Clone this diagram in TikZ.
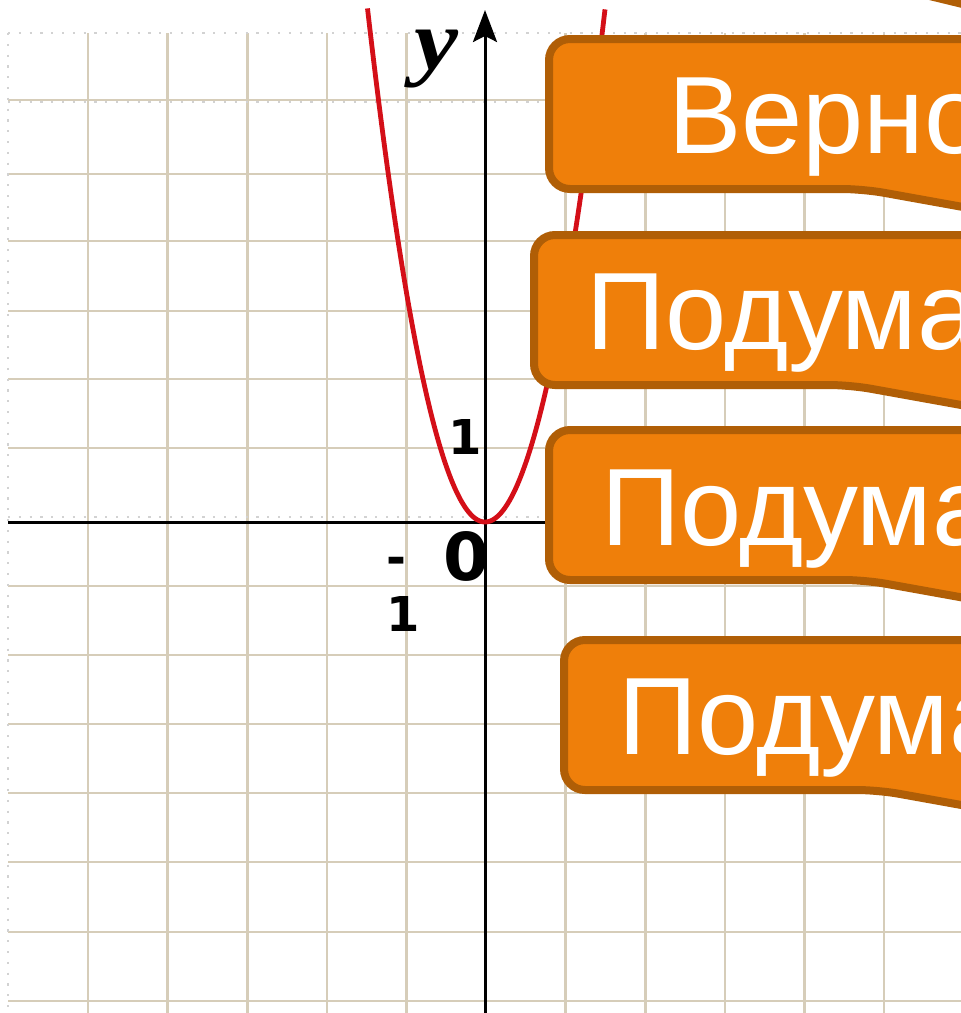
\documentclass[tikz,border=0pt]{standalone}
\usepackage{graphicx}
\usepackage{fontspec}
\setmainfont{Liberation Sans}
\newfontfamily\yserif{Liberation Serif}
\newfontfamily\numfont{DejaVu Sans}
\usetikzlibrary{arrows.meta}
\definecolor{gridc}{HTML}{D6CDB9}
\definecolor{dotc}{HTML}{D2D2D2}
\definecolor{parac}{HTML}{D40F18}
\definecolor{boxfill}{HTML}{EF7F0A}
\definecolor{boxline}{HTML}{B05E06}
\tikzset{
  gridline/.style={draw=gridc, line width=2.6pt},
  dotline/.style={draw=dotc, line width=2.2pt, dash pattern=on 2.2pt off 8.6pt},
  axisline/.style={draw=black, line width=3pt},
  parab/.style={draw=parac, line width=4.8pt, line join=round},
  calloutbox/.style={fill=boxfill, draw=boxline, line width=8pt, rounded corners=21pt},
  callouttext/.style={text=white, font=\fontsize{110}{110}\selectfont, anchor=base west, inner sep=0pt},
  ticklabel/.style={font=\numfont\bfseries\fontsize{48}{57}\selectfont, inner sep=0pt},
}
\newcommand\callout[8]{%
  \draw[calloutbox] ({#4},{#3-4}) -- ({#1+4},{#3-4}) -- ({#1+4},{#2+4}) -- (1100,{#2+4})
    -- (1100,{#3-4+0.18*(1100-#4)}) -- cycle;
  \node[callouttext] (#8) at (#5,#6) {#7};
}
\begin{document}
\begin{tikzpicture}[x=1pt,y=-1pt]
\useasboundingbox (0,0) rectangle (961,1013);
\clip (0,0) rectangle (961,1013);
\fill[white] (0,0) rectangle (961,1013);
% grid
\foreach \gx in {88,167.6,247.2,326.8,406.4,565.6,645.2,724.8,804.4,884}
  \draw[gridline] (\gx,33) -- (\gx,1013);
\foreach \gy in {100,174,241,311,379,448,586,655,724,793,862,932,1001}
  \draw[gridline] (8,\gy) -- (961,\gy);
% dotted frame lines
\draw[dotline] (8,33) -- (961,33);
\draw[dotline] (8,102) -- (961,102);
\draw[dotline] (8,517) -- (545,517);
\draw[dotline] (8,33) -- (8,1013);
% axes
\coordinate (xl) at (8,522);
\coordinate (xr) at (560,522);
\coordinate (yb) at (485,1013);
\coordinate (yt) at (485,10);
\draw[axisline] (xl) -- (xr);
\draw[axisline, -{Stealth[length=32pt,width=24pt,inset=6pt]}] (yb) -- (yt);
% parabola
\draw[parab] plot[domain=-117.5:0, samples=60] ({485+\x},{522-0.0372*\x*\x})
  -- plot[domain=0:120, samples=60] ({485+\x},{522-0.0356*\x*\x});
% labels
\node[ticklabel, anchor=base west] (one) at (448,454) {1};
\node[font=\numfont\bfseries\fontsize{66}{66}\selectfont, inner sep=0pt, anchor=base west] (zero) at (443,580) {0};
\node[ticklabel, anchor=north west, align=left] (mone) at (386,557) {-\\1};
\node[font=\yserif\bfseries\itshape\fontsize{86}{86}\selectfont, inner sep=0pt, anchor=base west] (ylab) at (414,69) {\scalebox{1.15}[1]{y}};
% callouts
\callout{545}{35}{193}{863}{668}{153}{Верно}{b1}
\callout{530}{231}{389}{850}{586}{349}{Подума}{b2}
\callout{545}{426}{584}{865}{601}{545}{Подума}{b3}
\callout{560}{636}{794}{878}{618}{754}{Подума}{b4}
% tail of a callout above the picture
\fill[boxline] (925,-1) -- (962,-1) -- (962,8) -- cycle;
\end{tikzpicture}
\end{document}
